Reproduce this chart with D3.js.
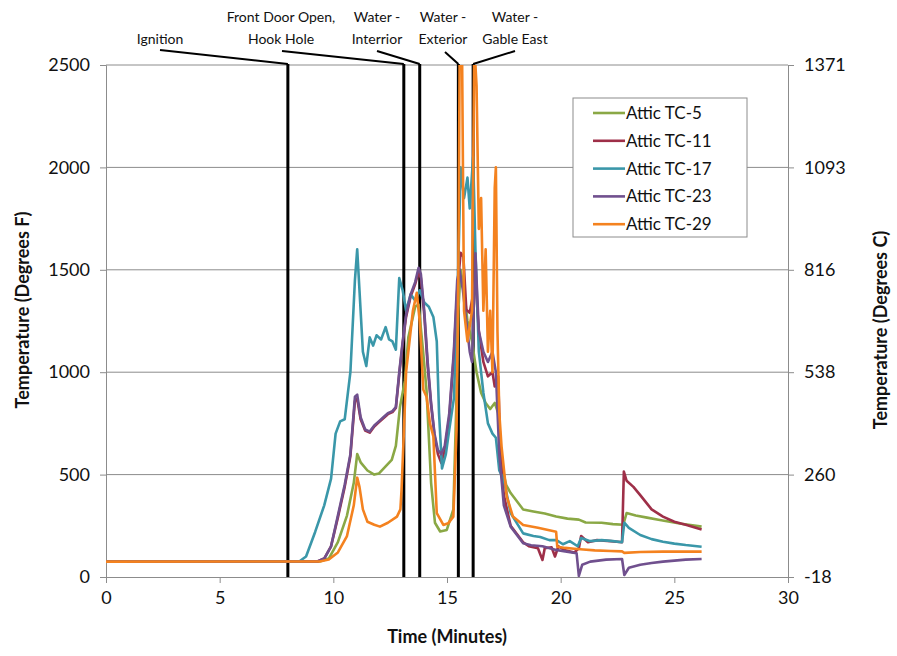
<!DOCTYPE html>
<html>
<head>
<meta charset="utf-8">
<script src="https://cdn.jsdelivr.net/npm/d3@7"></script>
<style>
body{margin:0;background:#fff;}
svg text{font-family:Lato,"Noto Sans",sans-serif;}
</style>
</head>
<body>
<svg id="chart" width="897" height="656"></svg>
<script>
// ---------- DATA ----------
const seriesNames = ["Attic TC-5","Attic TC-11","Attic TC-17","Attic TC-23","Attic TC-29"];
const xTicks = [0,5,10,15,20,25,30];
const yTicksF = [0,500,1000,1500,2000,2500];

const eventTimes = [8.0, 13.1, 13.8, 15.5, 16.15];
const eventLabels = [["Ignition"],["Front Door Open,","Hook Hole"],["Water -","Interrior"],["Water -","Exterior"],["Water -","Gable East"]];

// [time (min), temperature (F)]
const tc5 = [[0,75],[9.4,76],[9.8,90],[10.2,170],[10.6,300],[10.9,460],[11.05,600],[11.2,560],[11.5,520],[11.8,500],[12.0,505],[12.3,540],[12.57,572],[12.75,640],[12.93,830],[13.15,960],[13.3,1170],[13.6,1320],[13.75,1330],[13.95,1100],[14.1,910],[14.3,460],[14.47,265],[14.7,222],[14.99,230],[15.28,330],[15.4,800],[15.5,1300],[15.6,1500],[15.75,1400],[15.9,1250],[16.1,1150],[16.3,1000],[16.5,900],[16.7,850],[16.9,820],[17.1,850],[17.25,800],[17.4,550],[17.6,450],[17.8,410],[18.35,330],[18.8,320],[19.3,310],[19.8,295],[20.3,285],[20.8,280],[21.1,266],[21.8,265],[22.3,258],[22.75,255],[22.9,312],[23.3,300],[23.8,290],[24.3,280],[24.8,270],[25.3,260],[25.8,252],[26.2,246]];

const tc11 = [[0,75],[9.3,76],[9.6,90],[9.9,150],[10.2,290],[10.5,440],[10.75,590],[10.95,860],[11.05,870],[11.2,770],[11.4,715],[11.6,705],[11.8,735],[12.0,755],[12.2,775],[12.4,795],[12.6,805],[12.75,825],[12.9,990],[13.05,1140],[13.2,1270],[13.4,1370],[13.6,1430],[13.75,1490],[13.85,1460],[14.0,1280],[14.15,1030],[14.3,840],[14.45,690],[14.6,600],[14.75,557],[14.9,620],[15.1,780],[15.3,1080],[15.45,1400],[15.6,1583],[15.72,1564],[15.85,1305],[16.0,1290],[16.1,1350],[16.25,1450],[16.4,1200],[16.6,1050],[16.8,980],[17.0,1000],[17.1,930],[17.25,980],[17.35,600],[17.5,400],[17.8,250],[18.35,170],[18.6,150],[19.0,140],[19.2,83],[19.3,140],[19.6,145],[19.75,100],[19.9,150],[20.2,130],[20.6,120],[20.8,140],[20.9,200],[21.2,170],[21.6,180],[22.2,175],[22.7,170],[22.78,515],[22.9,470],[23.2,440],[23.5,400],[24.0,330],[24.5,295],[25.0,270],[25.5,255],[26.2,232]];

const tc17 = [[0,75],[8.5,76],[8.8,100],[9.2,220],[9.6,350],[9.9,480],[10.1,700],[10.3,760],[10.5,770],[10.75,1000],[10.95,1450],[11.05,1600],[11.15,1400],[11.3,1100],[11.45,1030],[11.6,1170],[11.75,1130],[11.9,1180],[12.1,1160],[12.3,1220],[12.45,1160],[12.6,1150],[12.75,1110],[12.9,1460],[13.05,1400],[13.2,1300],[13.4,1380],[13.6,1350],[13.8,1400],[14.0,1340],[14.2,1320],[14.4,1270],[14.55,1150],[14.65,800],[14.78,530],[14.95,600],[15.1,720],[15.3,870],[15.45,1300],[15.6,2000],[15.75,1850],[15.9,1950],[16.0,1800],[16.15,2050],[16.25,1600],[16.4,1100],[16.6,900],[16.8,750],[17.0,700],[17.15,680],[17.3,520],[17.5,474],[17.8,312],[18.35,213],[18.8,200],[19.1,195],[19.5,180],[19.8,181],[20.1,160],[20.4,175],[20.75,150],[20.9,190],[21.3,175],[21.8,180],[22.3,175],[22.7,170],[22.8,265],[23.0,240],[23.5,205],[24.0,185],[24.5,172],[25.0,163],[25.5,156],[26.2,148]];

const tc23 = [[0,75],[9.3,76],[9.6,90],[9.9,150],[10.2,300],[10.5,450],[10.75,600],[10.95,880],[11.05,890],[11.2,780],[11.4,720],[11.6,710],[11.8,740],[12.0,760],[12.2,780],[12.4,800],[12.6,810],[12.75,830],[12.9,1000],[13.05,1150],[13.2,1280],[13.4,1380],[13.6,1440],[13.75,1510],[13.85,1480],[14.0,1300],[14.15,1050],[14.3,850],[14.45,700],[14.6,620],[14.75,600],[14.9,640],[15.1,800],[15.3,1100],[15.45,1450],[15.55,1500],[15.7,1400],[15.85,1250],[16.0,1100],[16.1,1050],[16.25,1580],[16.4,1200],[16.6,1100],[16.8,1050],[17.0,1100],[17.15,1000],[17.3,600],[17.5,350],[17.8,246],[18.35,165],[18.7,155],[19.2,150],[19.8,132],[20.2,125],[20.7,116],[20.8,5],[20.95,60],[21.3,75],[22.0,85],[22.7,88],[22.8,10],[23.0,45],[23.5,60],[24.0,68],[24.5,75],[25.0,80],[25.5,85],[26.2,88]];

const tc29 = [[0,75],[9.4,76],[9.8,85],[10.2,120],[10.6,200],[10.9,350],[11.05,485],[11.15,440],[11.3,330],[11.5,270],[11.8,255],[12.05,246],[12.4,265],[12.8,295],[12.95,330],[13.0,425],[13.1,700],[13.2,1000],[13.35,1150],[13.5,1300],[13.67,1388],[13.8,1250],[13.96,914],[14.1,880],[14.25,750],[14.4,686],[14.55,312],[14.84,254],[15.05,262],[15.28,295],[15.42,718],[15.5,1500],[15.56,2600],[15.66,2600],[15.75,1300],[15.9,1150],[16.1,1300],[16.2,2600],[16.3,2400],[16.4,1700],[16.5,1850],[16.6,1300],[16.7,1600],[16.8,1100],[16.9,1300],[17.0,1000],[17.1,1900],[17.15,2000],[17.22,1200],[17.3,800],[17.4,637],[17.63,392],[17.9,295],[18.35,254],[19.0,240],[19.5,228],[19.8,221],[19.85,148],[20.2,142],[20.6,138],[21.0,134],[21.5,130],[22.2,127],[22.7,125],[22.8,118],[23.5,122],[24.5,124],[26.2,124]];

const seriesData = [tc5, tc11, tc17, tc23, tc29];
const colors = ["#8AA845","#9E2F48","#3A97A9","#70508E","#F4821F"];

// ---------- LAYOUT ----------
const svg = d3.select("#chart");
const M = {left:106, right:788, top:65, bottom:577};
const x = d3.scaleLinear().domain([0,30]).range([M.left, M.right]);
const y = d3.scaleLinear().domain([0,2500]).range([M.bottom, M.top]);
const toC = f => (f-32)*5/9;
const yC = d3.scaleLinear().domain([toC(0), toC(2500)]).range([M.bottom, M.top]);

// gridlines
svg.append("g").selectAll("line").data(yTicksF.filter(d=>d>0)).join("line")
  .attr("x1",M.left).attr("x2",M.right)
  .attr("y1",d=>y(d)).attr("y2",d=>y(d))
  .attr("stroke","#8c8c8c").attr("stroke-width",1);

// axes
const gx = svg.append("g").attr("transform",`translate(0,${M.bottom})`)
  .call(d3.axisBottom(x).tickValues(xTicks).tickSize(6).tickPadding(8).tickFormat(d3.format("d")));
const gy = svg.append("g").attr("transform",`translate(${M.left},0)`)
  .call(d3.axisLeft(y).tickValues(yTicksF).tickSize(6).tickPadding(10).tickFormat(d3.format("d")));
const gyr = svg.append("g").attr("transform",`translate(${M.right},0)`)
  .call(d3.axisRight(yC).tickValues(yTicksF.map(toC)).tickSize(6).tickPadding(10).tickFormat(d=>Math.round(d)));
[gx,gy,gyr].forEach(g=>{
  g.select(".domain").attr("stroke","#8c8c8c").attr("stroke-width",1);
  g.selectAll(".tick line").attr("stroke","#8c8c8c");
  g.selectAll(".tick text").attr("font-size",18).attr("fill","#111").style("font-family","Lato,sans-serif");
});

// clip
svg.append("clipPath").attr("id","plotclip").append("rect")
  .attr("x",M.left).attr("y",M.top).attr("width",M.right-M.left).attr("height",M.bottom-M.top);

// event lines
const evG = svg.append("g");
evG.selectAll("line.ev").data(eventTimes).join("line").attr("class","ev")
  .attr("x1",d=>x(d)).attr("x2",d=>x(d)).attr("y1",M.top-1).attr("y2",M.bottom)
  .attr("stroke","#000").attr("stroke-width",3);

// series lines
const line = d3.line().x(d=>x(d[0])).y(d=>y(d[1]));
svg.append("g").attr("clip-path","url(#plotclip)")
  .selectAll("path").data(seriesData).join("path")
  .attr("d",line).attr("fill","none")
  .attr("stroke",(d,i)=>colors[i]).attr("stroke-width",2.6).attr("stroke-linejoin","round");

// event labels and leaders
const labelX = [160, 281, 377, 443, 515];
const leaderStart = [[160,50],[282,51],[377,51],[445,52],[515,51]];
eventTimes.forEach((t,i)=>{
  svg.append("line").attr("x1",leaderStart[i][0]).attr("y1",leaderStart[i][1])
    .attr("x2",x(t)).attr("y2",M.top-1).attr("stroke","#000").attr("stroke-width",2);
  const lines = eventLabels[i];
  const baseY = lines.length===1 ? 44 : 22;
  lines.forEach((s,j)=>{
    svg.append("text").attr("x",labelX[i]).attr("y",baseY + j*22)
      .attr("text-anchor","middle").attr("font-size",14).attr("fill","#111").text(s);
  });
});

// axis titles
svg.append("text").attr("x",447).attr("y",643).attr("text-anchor","middle")
  .attr("font-size",18).attr("font-weight","bold").attr("fill","#111").text("Time (Minutes)");
svg.append("text").attr("transform","translate(29,310) rotate(-90)").attr("text-anchor","middle")
  .attr("font-size",18).attr("font-weight","bold").attr("fill","#111").text("Temperature (Degrees F)");
svg.append("text").attr("transform","translate(887,330) rotate(-90)").attr("text-anchor","middle")
  .attr("font-size",18).attr("font-weight","bold").attr("fill","#111").text("Temperature (Degrees C)");

// legend
const lg = svg.append("g");
lg.append("rect").attr("x",573).attr("y",98).attr("width",174).attr("height",139)
  .attr("fill","#fff").attr("stroke","#8c8c8c").attr("stroke-width",1);
seriesNames.forEach((n,i)=>{
  const yy = 113 + i*27.8;
  lg.append("line").attr("x1",593).attr("x2",625).attr("y1",yy).attr("y2",yy)
    .attr("stroke",colors[i]).attr("stroke-width",2.6);
  lg.append("text").attr("x",626).attr("y",yy+6).attr("font-size",17).attr("fill","#111").text(n);
});
</script>
</body>
</html>
